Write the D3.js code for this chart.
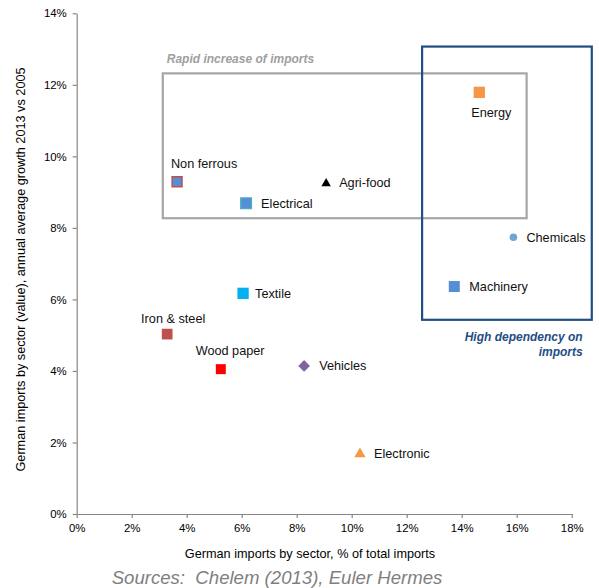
<!DOCTYPE html>
<html>
<head>
<meta charset="utf-8">
<script src="https://cdn.jsdelivr.net/npm/d3@7"></script>
<style>
  html, body { margin: 0; padding: 0; background: #fff; }
  svg { display: block; font-family: "Liberation Sans", Arial, sans-serif; }
</style>
</head>
<body>
<svg id="chart" width="599" height="588"></svg>
<script>
// Sectors of German imports
const sectors = ["Energy", "Chemicals", "Machinery", "Non ferrous", "Agri-food", "Electrical",
                 "Textile", "Iron & steel", "Wood paper", "Vehicles", "Electronic"];
// Share of total German imports (%)
const importShare = [14.64, 15.88, 13.73, 3.65, 9.07, 6.16, 6.05, 3.29, 5.24, 8.27, 10.30];
// Annual average growth of imports 2013 vs 2005 (%)
const importGrowth = [11.79, 7.74, 6.36, 9.29, 9.26, 8.69, 6.17, 5.03, 4.05, 4.14, 1.70];

const xTicks = [0, 2, 4, 6, 8, 10, 12, 14, 16, 18];
const yTicks = [0, 2, 4, 6, 8, 10, 12, 14];

// Highlighted zones, in data units: [x0, x1, y0, y1]
const rapidIncreaseZone = [3.13, 16.36, 8.27, 12.32];
const highDependencyZone = [12.56, 18.73, 5.43, 13.07];

// Marker appearance and label placement per sector
const markerStyle = {
  "Energy":       { shape: "square",   size: 11.3, fill: "#F79646", dx: 12,  dy: 20,  anchor: "middle" },
  "Chemicals":    { shape: "circle",   size: 7.6,  fill: "#6FA6D0", dx: 13,  dy: 0,   anchor: "start" },
  "Machinery":    { shape: "square",   size: 11,   fill: "#558ED5", dx: 15,  dy: 0,   anchor: "start" },
  "Non ferrous":  { shape: "square",   size: 10,   fill: "#558ED5", stroke: "#C0504D", dx: 27, dy: -17.7, anchor: "middle" },
  "Agri-food":    { shape: "triangle", size: 9.5,  fill: "#000000", dx: 13,  dy: 0,   anchor: "start" },
  "Electrical":   { shape: "square",   size: 10.6, fill: "#558ED5", stroke: "#4BACC6", dx: 15, dy: 0, anchor: "start" },
  "Textile":      { shape: "square",   size: 11.3, fill: "#00B0F0", dx: 12,  dy: 0,   anchor: "start" },
  "Iron & steel": { shape: "square",   size: 10.7, fill: "#C0504D", dx: 6,   dy: -15.3, anchor: "middle" },
  "Wood paper":   { shape: "square",   size: 10,   fill: "#FF0000", dx: 9.3, dy: -18.3, anchor: "middle" },
  "Vehicles":     { shape: "diamond",  size: 11.7, fill: "#8064A2", dx: 15,  dy: 0,   anchor: "start" },
  "Electronic":   { shape: "triangle", size: 11.3, fill: "#F79646", dx: 14,  dy: 0,   anchor: "start" }
};

const svg = d3.select("#chart");
const margin = { left: 76.7, right: 27.3, top: 13.3, bottom: 74 };
const W = 599, H = 588;

const x = d3.scaleLinear().domain([0, 18]).range([margin.left, W - margin.right]);
const y = d3.scaleLinear().domain([0, 14]).range([H - margin.bottom, margin.top]);

const axisColor = "#868686";

// X axis
const gx = svg.append("g")
  .attr("transform", `translate(0,${y(0)})`)
  .call(d3.axisBottom(x).tickValues(xTicks).tickFormat(d => d + "%")
        .tickSizeInner(4).tickSizeOuter(0).tickPadding(6));
// Y axis
const gy = svg.append("g")
  .attr("transform", `translate(${x(0)},0)`)
  .call(d3.axisLeft(y).tickValues(yTicks).tickFormat(d => d + "%")
        .tickSizeInner(4).tickSizeOuter(0).tickPadding(6));

[gx, gy].forEach(g => {
  g.select(".domain").attr("stroke", axisColor).attr("stroke-width", 1.2);
  g.selectAll(".tick line").attr("stroke", axisColor).attr("stroke-width", 1.2);
  g.selectAll(".tick text").attr("fill", "#000")
    .style("font-family", "'Liberation Sans', Arial, sans-serif")
    .style("font-size", "11.4px");
});

// Axis titles
svg.append("text")
  .attr("x", 310)
  .attr("y", 557.5)
  .attr("text-anchor", "middle")
  .style("font-size", "12.7px")
  .attr("fill", "#000")
  .text("German imports by sector, % of total imports");

svg.append("text")
  .attr("transform", `translate(25,269.5) rotate(-90)`)
  .attr("text-anchor", "middle")
  .style("font-size", "12.7px")
  .attr("fill", "#000")
  .text("German imports by sector (value), annual average growth 2013 vs 2005");

// Source line
svg.append("text")
  .attr("x", 277)
  .attr("y", 583.5)
  .attr("text-anchor", "middle")
  .style("font-size", "18.6px")
  .style("font-style", "italic")
  .style("white-space", "pre")
  .attr("fill", "#7F7F7F")
  .text("Sources:  Chelem (2013), Euler Hermes");

// Zones
function zoneRect(z, color) {
  svg.append("rect")
    .attr("x", x(z[0]))
    .attr("y", y(z[3]))
    .attr("width", x(z[1]) - x(z[0]))
    .attr("height", y(z[2]) - y(z[3]))
    .attr("fill", "none")
    .attr("stroke", color)
    .attr("stroke-width", 2.2);
}
zoneRect(rapidIncreaseZone, "#A6A6A6");
zoneRect(highDependencyZone, "#1F4E84");

svg.append("text")
  .attr("x", x(rapidIncreaseZone[0]) + 4)
  .attr("y", y(rapidIncreaseZone[3]) - 10.5)
  .style("font-size", "12px")
  .style("font-weight", "bold")
  .style("font-style", "italic")
  .attr("fill", "#A0A0A0")
  .text("Rapid increase of imports");

const hd = svg.append("text")
  .attr("text-anchor", "end")
  .style("font-size", "12px")
  .style("font-weight", "bold")
  .style("font-style", "italic")
  .attr("fill", "#1F4E84");
["High dependency on", "imports"].forEach((line, i) => {
  hd.append("tspan")
    .attr("x", 582.7)
    .attr("y", y(highDependencyZone[2]) + 21.5 + i * 15)
    .text(line);
});

// Points
const points = sectors.map((name, i) => ({ name, share: importShare[i], growth: importGrowth[i] }));

const symbolFor = {
  square: d3.symbolSquare,
  circle: d3.symbolCircle,
  triangle: d3.symbolTriangle,
  diamond: d3.symbolSquare
};

const marks = svg.append("g").selectAll("g")
  .data(points)
  .join("g")
  .attr("transform", d => `translate(${x(d.share)},${y(d.growth)})`);

marks.each(function (d) {
  const s = markerStyle[d.name];
  const g = d3.select(this);
  let area;
  if (s.shape === "square") area = s.size * s.size;
  else if (s.shape === "circle") area = Math.PI * (s.size / 2) ** 2;
  else if (s.shape === "triangle") area = (Math.sqrt(3) / 4) * s.size * s.size;
  else area = (s.size * s.size) / 2;
  const p = g.append("path")
    .attr("d", d3.symbol().type(symbolFor[s.shape]).size(area)())
    .attr("fill", s.fill);
  if (s.shape === "diamond") p.attr("transform", "rotate(45)");
  if (s.shape === "triangle") p.attr("transform", `translate(0,${s.size * 0.07})`);
  if (s.stroke) p.attr("stroke", s.stroke).attr("stroke-width", 1.4);

  g.append("text")
    .attr("x", s.dx)
    .attr("y", s.dy)
    .attr("dy", "0.35em")
    .attr("text-anchor", s.anchor)
    .style("font-size", "12.7px")
    .attr("fill", "#111")
    .text(d.name);
});
</script>
</body>
</html>
